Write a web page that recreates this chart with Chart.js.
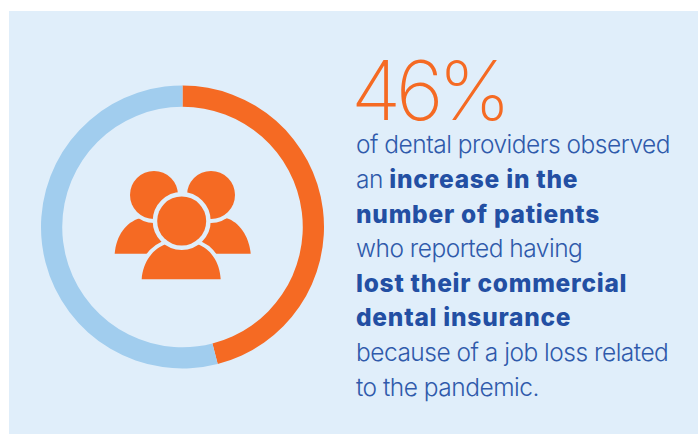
<!DOCTYPE html>
<html lang="en">
<head>
  <meta charset="UTF-8">
  <title>Dental providers</title>
  <script src="https://cdn.jsdelivr.net/npm/chart.js"></script>
  <style>
    html, body { margin: 0; padding: 0; background: #fff; overflow: hidden; }
    #panel { position: absolute; left: 9px; top: 11px; width: 689px; height: 423px; background: #e0eefa; }
    #ringBox { position: absolute; left: 41px; top: 85px; width: 283px; height: 284px; }
    #icon { position: absolute; left: 100px; top: 150px; }
    #big { position: absolute; left: 351px; top: 41px; font: 200 82px/100px Inter, sans-serif; color: #f56a23; white-space: nowrap; letter-spacing: -5.5px; }
    .line { position: absolute; left: 356px; font: 300 24.5px/34px Inter, sans-serif; letter-spacing: -0.5px; color: #2f5aab; white-space: nowrap; }
    .line b { font-weight: 800; letter-spacing: 0.75px; color: #234fa3; }
  </style>
</head>
<body>
  <div id="panel"></div>
  <div id="ringBox"><canvas id="ring" width="283" height="284"></canvas></div>

  <svg id="icon" width="170" height="150" viewBox="0 0 170 150">
    <g fill="#f56a23" stroke="#e0eefa" style="paint-order: stroke">
      <path stroke="none" d="M14.7 103.7 C16 86 26 72 40 68.3 L70 75 L70 103.7 Z"/>
      <path stroke="none" d="M150.7 103.7 C149 86 139 72 126.7 68.3 L95 75 L95 103.7 Z"/>
      <circle cx="54" cy="45" r="24" stroke-width="8"/>
      <circle cx="111" cy="45" r="24" stroke-width="8"/>
      <path stroke-width="8" d="M41.7 129.3 C43 112 53 98 66.7 94 C75 98 88 98 96.7 94 C110 98 120 112 120.7 129.3 Z"/>
      <circle cx="81.7" cy="71" r="24.5" stroke-width="9"/>
    </g>
  </svg>

  <div id="big">46%</div>
  <div class="line" style="top:127px">of dental providers observed</div>
  <div class="line" style="top:162px">an <b>increase in the</b></div>
  <div class="line" style="top:197px"><b>number of patients</b></div>
  <div class="line" style="top:231px">who reported having</div>
  <div class="line" style="top:266px"><b>lost their commercial</b></div>
  <div class="line" style="top:300px"><b>dental insurance</b></div>
  <div class="line" style="top:335px">because of a job loss related</div>
  <div class="line" style="top:370px">to the pandemic.</div>

  <script>
    const categories = ['Observed an increase', 'Did not'];
    const shareValues = [46, 54];
    const sliceColors = ['#f56a23', '#a1cdee'];

    new Chart(document.getElementById('ring'), {
      type: 'doughnut',
      data: {
        labels: categories,
        datasets: [{ data: shareValues, backgroundColor: sliceColors, borderWidth: 0 }]
      },
      options: {
        responsive: false,
        animation: false,
        cutout: '85%',
        plugins: { legend: { display: false }, tooltip: { enabled: false } }
      }
    });
  </script>
</body>
</html>
